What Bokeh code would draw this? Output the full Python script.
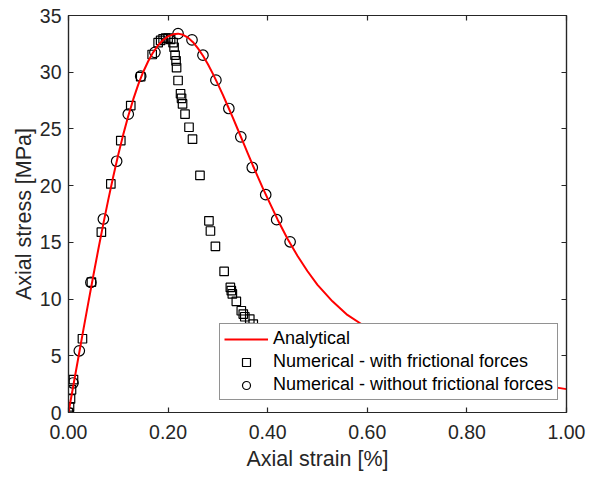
from bokeh.plotting import figure
from bokeh.models import Range1d, LinearAxis, FixedTicker, Legend, LegendItem
from bokeh.embed import file_html
from bokeh.resources import INLINE

# ---- data ----
analytical_x = [0.00, 0.01, 0.02, 0.03, 0.04, 0.05, 0.06, 0.07, 0.08, 0.09, 0.10,
                0.11, 0.12, 0.13, 0.14, 0.15, 0.16, 0.17, 0.18, 0.19, 0.20, 0.21,
                0.22, 0.23, 0.24, 0.25, 0.26, 0.27, 0.28, 0.29, 0.30, 0.31, 0.32,
                0.33, 0.34, 0.35, 0.36, 0.37, 0.38, 0.39, 0.40, 0.42, 0.44, 0.46,
                0.48, 0.50, 0.53, 0.56, 0.60, 0.65, 0.70, 0.75, 0.80, 0.85, 0.90,
                0.95, 1.00]
analytical_y = [0.00, 2.45, 4.89, 7.33, 9.73, 12.10, 14.41, 16.65, 18.79, 20.83, 22.74,
                24.52, 26.14, 27.60, 28.90, 30.02, 30.97, 31.75, 32.38, 32.84, 33.16, 33.34,
                33.40, 33.30, 33.05, 32.65, 32.10, 31.45, 30.70, 29.85, 28.95, 28.00, 27.00,
                26.00, 24.95, 23.90, 22.85, 21.80, 20.80, 19.80, 18.85, 17.00, 15.30, 13.80,
                12.45, 11.25, 9.80, 8.60, 7.45, 6.20, 5.20, 4.40, 3.75, 3.20, 2.75,
                2.40, 2.06]

with_friction_x = [0.000, 0.002, 0.004, 0.006, 0.010, 0.028, 0.046, 0.066, 0.085, 0.105,
                   0.125, 0.145, 0.168, 0.180, 0.185, 0.190, 0.195, 0.200, 0.205, 0.210,
                   0.212, 0.214, 0.216, 0.217, 0.220, 0.225, 0.227, 0.229, 0.234, 0.242,
                   0.249, 0.264, 0.282, 0.285, 0.295, 0.3125, 0.325, 0.327, 0.329, 0.337,
                   0.347, 0.351, 0.354, 0.364, 0.371]
with_friction_y = [0.0, 0.5, 1.2, 2.0, 2.9, 6.5, 11.5, 15.9, 20.15, 23.97,
                   27.06, 29.6, 31.56, 32.6, 32.8, 32.95, 33.0, 33.0, 32.9, 32.6,
                   32.2, 31.5, 31.0, 30.4, 29.27, 28.1, 27.7, 27.2, 26.3, 25.15,
                   24.1, 20.9, 16.9, 16.0, 14.65, 12.44, 11.03, 10.74, 10.45, 9.8,
                   8.97, 8.68, 8.44, 8.24, 7.8]

without_friction_x = [0.000, 0.009, 0.0217, 0.045, 0.070, 0.0967, 0.120, 0.145, 0.1735,
                      0.220, 0.248, 0.270, 0.296, 0.322, 0.346, 0.369, 0.396, 0.418, 0.445]
without_friction_y = [0.0, 2.6, 5.44, 11.47, 17.06, 22.15, 26.3, 29.65, 31.75,
                      33.4, 32.85, 31.5, 29.3, 26.8, 24.3, 21.6, 19.2, 17.0, 15.05]

x_ticks = [0.0, 0.2, 0.4, 0.6, 0.8, 1.0]
x_tick_labels = ["0.00", "0.20", "0.40", "0.60", "0.80", "1.00"]
y_ticks = [0, 5, 10, 15, 20, 25, 30, 35]

FONT = "Liberation Sans"
TXT = "#262626"

p = figure(frame_width=498, frame_height=397, output_backend="svg", toolbar_location=None,
           x_range=Range1d(0, 1), y_range=Range1d(0, 35),
           min_border_left=68, min_border_right=24, min_border_top=15, min_border_bottom=67,
           background_fill_color="white", border_fill_color="white")
p.grid.visible = False
p.outline_line_color = TXT
p.outline_line_width = 1.2

def style_axis(ax):
    ax.axis_line_color = TXT
    ax.axis_line_width = 1.2
    ax.major_tick_line_color = TXT
    ax.major_tick_line_width = 1.2
    ax.major_tick_in = 5
    ax.major_tick_out = 0
    ax.minor_tick_in = 0
    ax.minor_tick_out = 0
    ax.major_label_text_font = FONT
    ax.major_label_text_color = TXT
    ax.major_label_text_font_size = "19.5px"

xa = p.xaxis[0]
ya = p.yaxis[0]
xa.ticker = FixedTicker(ticks=x_ticks)
ya.ticker = FixedTicker(ticks=y_ticks)
xa.major_label_overrides = {t: l for t, l in zip(x_ticks, x_tick_labels)}
style_axis(xa)
style_axis(ya)
xa.major_label_standoff = 12
ya.major_label_standoff = 7
xa.axis_label = "Axial strain [%]"
ya.axis_label = "Axial stress [MPa]"
for ax in (xa, ya):
    ax.axis_label_text_font = FONT
    ax.axis_label_text_font_size = "21.5px"
    ax.axis_label_text_font_style = "normal"
    ax.axis_label_text_color = TXT
xa.axis_label_standoff = 5
ya.axis_label_standoff = 1

# box-style top and right axes: ticks only, no labels
top = LinearAxis(ticker=FixedTicker(ticks=x_ticks))
right = LinearAxis(ticker=FixedTicker(ticks=y_ticks))
style_axis(top)
style_axis(right)
top.major_label_overrides = {t: "" for t in x_ticks}
right.major_label_overrides = {t: "" for t in y_ticks}
top.major_label_standoff = 0
right.major_label_standoff = 0
p.add_layout(top, "above")
p.add_layout(right, "right")

sq = p.scatter(with_friction_x, with_friction_y, marker="square", size=8.5,
               line_color="black", line_width=1.2, fill_color=None)
ci = p.scatter(without_friction_x, without_friction_y, marker="circle", size=10.5,
               line_color="black", line_width=1.2, fill_color=None)
ln = p.line(analytical_x, analytical_y, line_color="#ff0000", line_width=2)

legend = Legend(items=[LegendItem(label="Analytical", renderers=[ln]),
                       LegendItem(label="Numerical - with frictional forces", renderers=[sq]),
                       LegendItem(label="Numerical - without frictional forces", renderers=[ci])],
                location=(151, 12), margin=0, padding=4, spacing=2,
                glyph_width=44, glyph_height=20, label_height=20, label_standoff=5,
                label_text_font=FONT, label_text_font_size="18px", label_text_color="black",
                border_line_color=TXT, border_line_width=1.2,
                background_fill_color="white", background_fill_alpha=1.0)
p.add_layout(legend, "center")

open("out.html", "w").write(file_html(p, INLINE))
